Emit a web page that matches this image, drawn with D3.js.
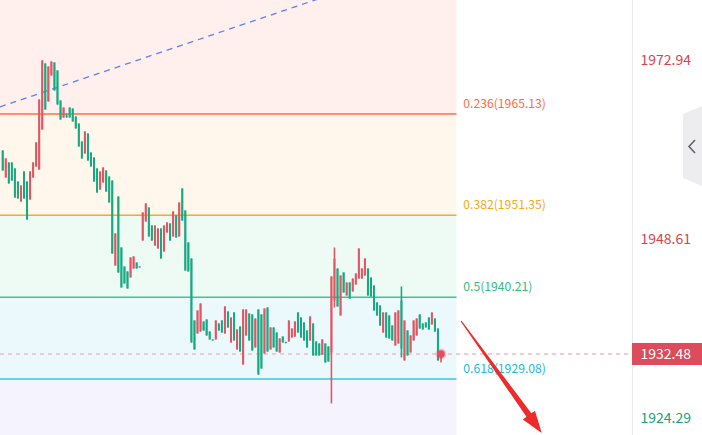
<!DOCTYPE html>
<html><head><meta charset="utf-8">
<script src="https://cdn.jsdelivr.net/npm/d3@7"></script>
<style>html,body{margin:0;padding:0;background:#fff;overflow:hidden}svg{display:block}</style>
</head><body>
<svg id="c" width="702" height="435"></svg>
<script>
// ---------- data ----------
const fibRatios = [0.236, 0.382, 0.5, 0.618];
const fibPrices = [1965.13, 1951.35, 1940.21, 1929.08];
const axisTicks = [1972.94, 1948.61, 1924.29];
const lastPrice = 1932.48;

const open = [
1960.17,1956.49,1958.53,1958.53,1957.72,1955.95,1953.23,1957.31,1955.95,1953.50,
1956.49,1957.99,1957.58,1963.02,1972.00,1966.83,1970.37,1972.14,1971.05,1966.97,
1964.65,1964.93,1966.01,1965.88,1964.79,1963.84,1961.39,1959.76,1962.48,1959.89,
1959.21,1957.72,1954.86,1955.81,1957.44,1956.63,1956.08,1944.52,1953.91,1946.97,
1944.39,1943.71,1942.89,1944.11,1944.93,1944.39,1947.92,1950.51,1952.41,1949.96,
1947.24,1946.83,1949.56,1946.43,1949.01,1950.24,1948.47,1951.32,1948.47,1955.00,
1952.00,1947.65,1945.47,1937.04,1935.27,1935.54,1936.90,1937.18,1935.54,1934.46,
1934.46,1936.63,1937.04,1935.27,1938.26,1934.05,1938.13,1933.10,1936.22,1931.06,
1935.00,1937.99,1937.86,1933.37,1938.54,1937.86,1932.55,1938.81,1933.10,1936.09,
1935.41,1932.69,1934.86,1934.10,1934.18,1934.73,1934.86,1938.13,1937.45,1936.77,
1935.68,1934.32,1936.63,1934.18,1933.91,1932.41,1933.91,1933.50,1932.69,1939.76,
1944.11,1937.72,1943.57,1940.44,1942.21,1940.99,1941.94,1942.75,1942.75,1943.16,
1944.11,1942.89,1941.80,1939.49,1939.08,1935.41,1938.13,1937.72,1936.36,1933.64,
1933.91,1939.76,1931.60,1935.68,1932.69,1934.32,1935.00,1937.86,1936.63,1936.77,
1937.45,1936.50,1937.31,1935.95,1931.87];
const close = [
1957.44,1959.08,1955.68,1956.08,1953.77,1953.64,1955.40,1953.64,1950.78,1957.31,
1958.53,1961.25,1967.10,1972.41,1965.74,1971.59,1972.27,1968.33,1966.42,1964.38,
1966.01,1964.79,1964.65,1964.11,1963.16,1960.71,1959.08,1962.75,1958.81,1957.99,
1955.95,1954.45,1957.31,1957.85,1954.59,1953.09,1946.15,1948.88,1943.57,1941.53,
1942.07,1941.39,1945.61,1945.75,1944.11,1944.25,1951.73,1952.96,1948.47,1947.92,
1949.96,1949.56,1945.47,1949.96,1950.37,1947.92,1951.87,1948.33,1953.09,1950.64,
1943.84,1943.71,1934.05,1933.10,1938.40,1939.35,1935.68,1935.00,1934.46,1934.32,
1937.04,1935.68,1935.41,1938.94,1936.09,1937.45,1934.32,1935.82,1932.82,1938.54,
1938.54,1934.32,1932.96,1937.31,1929.69,1930.51,1938.67,1932.82,1936.09,1933.37,
1932.82,1934.59,1934.05,1934.00,1937.04,1935.95,1936.90,1935.41,1934.73,1934.32,
1933.37,1937.59,1932.28,1932.28,1932.28,1934.46,1931.32,1931.46,1943.03,1945.47,
1938.94,1943.16,1940.85,1942.21,1940.03,1942.75,1943.43,1946.83,1944.11,1945.47,
1940.44,1940.31,1938.40,1937.72,1936.36,1938.13,1934.73,1934.59,1934.32,1938.13,
1938.40,1933.23,1937.04,1932.28,1935.00,1937.04,1937.31,1935.95,1935.82,1936.09,
1935.82,1938.13,1935.54,1931.60,1932.48];
const high = [
1960.17,1959.08,1958.53,1958.53,1957.72,1955.95,1955.40,1957.31,1955.95,1957.31,
1958.53,1961.25,1967.10,1972.41,1972.00,1971.59,1972.27,1972.14,1971.05,1966.97,
1966.01,1965.20,1966.01,1965.88,1964.79,1963.84,1961.39,1962.75,1962.48,1959.89,
1959.21,1957.72,1957.31,1957.85,1957.44,1956.63,1956.08,1948.88,1953.91,1946.97,
1944.39,1943.71,1945.61,1945.75,1944.93,1944.39,1951.73,1952.96,1952.41,1949.96,
1949.96,1949.56,1949.56,1949.96,1950.37,1950.24,1951.87,1951.32,1953.09,1955.00,
1952.00,1947.65,1945.47,1937.04,1938.40,1939.35,1936.90,1937.18,1935.54,1934.46,
1937.04,1936.63,1937.04,1938.94,1938.26,1937.45,1938.13,1935.82,1936.22,1938.54,
1938.54,1937.99,1937.86,1937.31,1938.54,1937.86,1938.67,1938.81,1936.09,1936.09,
1935.41,1934.59,1934.86,1934.15,1937.04,1935.95,1936.90,1938.13,1937.45,1936.77,
1935.68,1937.59,1936.63,1934.18,1933.91,1934.46,1933.91,1933.50,1943.03,1946.97,
1944.11,1943.16,1943.57,1942.21,1942.21,1942.75,1943.43,1946.83,1944.11,1945.47,
1944.11,1942.89,1941.80,1939.49,1939.08,1938.13,1938.13,1937.72,1936.36,1938.13,
1938.40,1941.67,1937.04,1935.68,1935.00,1937.04,1937.31,1937.86,1936.63,1936.77,
1937.45,1938.13,1937.31,1935.95,1932.48];
const low = [
1957.44,1956.49,1955.68,1956.08,1953.77,1953.64,1953.23,1953.64,1950.78,1953.50,
1956.49,1957.99,1957.58,1963.02,1965.74,1966.83,1970.37,1968.33,1966.42,1964.38,
1964.65,1964.60,1964.65,1964.11,1963.16,1960.71,1959.08,1959.76,1958.81,1957.99,
1955.95,1954.45,1954.86,1955.81,1954.59,1953.09,1946.15,1944.52,1943.57,1941.53,
1942.07,1941.39,1942.89,1944.11,1944.11,1944.25,1947.92,1950.51,1948.47,1947.92,
1947.24,1946.83,1945.47,1946.43,1949.01,1947.92,1948.47,1948.33,1948.47,1950.64,
1943.84,1943.71,1934.05,1933.10,1935.27,1935.54,1935.68,1935.00,1934.46,1934.32,
1934.46,1935.68,1935.41,1935.27,1936.09,1934.05,1934.32,1933.10,1932.82,1931.06,
1935.00,1934.32,1932.96,1933.37,1929.69,1930.51,1932.55,1932.82,1933.10,1933.37,
1932.82,1932.69,1934.05,1933.95,1934.18,1934.73,1934.86,1935.41,1934.73,1934.32,
1933.37,1934.32,1932.28,1932.28,1932.28,1932.41,1931.32,1931.46,1925.75,1938.81,
1938.94,1937.72,1940.85,1940.44,1940.03,1940.99,1941.94,1942.75,1942.75,1943.16,
1940.44,1940.31,1938.40,1937.72,1936.36,1935.41,1934.73,1934.59,1934.32,1933.64,
1933.91,1932.01,1931.60,1932.28,1932.69,1934.32,1935.00,1935.95,1935.82,1936.09,
1935.82,1936.50,1935.54,1931.60,1931.32];

// annotation anchors in (bar index, price)
const trendIdx = [-0.9, 101.3];
const trendPrice = [1966.1, 1980.45];
const arrowIdx = [150.6, 177.1];
const arrowPrice = [1936.97, 1921.75];

// ---------- styles ----------
const W = 702, H = 435, plotRight = 456.5, axisX = 632;
const bandColors = ["#fff0ee", "#fff7eb", "#eefaf4", "#ebf8fc", "#f5f3fd"];
const lineColors = ["#ff7043", "#f5ac1f", "#48c28a", "#3fc3e0"];
const labelColors = ["#ff6c3e", "#f5a91a", "#35bb7e", "#1ab8dc"];
const UP = "#e25563", DOWN = "#17a981";
const FONT = "'Noto Sans CJK SC','Noto Sans',sans-serif";

const svg = d3.select("#c");
const x = d3.scaleLinear().domain([0, open.length - 1]).range([2.7, 441]);
const y = d3.scaleLinear().domain([fibPrices[3], fibPrices[0]]).range([379, 114]);

// bands
const edges = [0, ...fibPrices.map(p => y(p)), H];
svg.append("g").selectAll("rect").data(bandColors).join("rect")
  .attr("x", 0).attr("width", plotRight)
  .attr("y", (d, i) => edges[i]).attr("height", (d, i) => edges[i + 1] - edges[i])
  .attr("fill", d => d);

// fib lines + labels
const fg = svg.append("g");
fg.selectAll("line").data(fibPrices).join("line")
  .attr("x1", 0).attr("x2", plotRight)
  .attr("y1", d => y(d)).attr("y2", d => y(d))
  .attr("stroke", (d, i) => lineColors[i]).attr("stroke-width", 1.5);
fg.selectAll("text").data(fibPrices).join("text")
  .attr("x", 463.3).attr("y", d => y(d) - 6)
  .attr("fill", (d, i) => labelColors[i])
  .attr("font-family", FONT).attr("font-size", 12.2)
  .text((d, i) => `${fibRatios[i]}(${d.toFixed(2)})`);

// trend line (extended across plot)
const tx0 = x(trendIdx[0]), ty0 = y(trendPrice[0]), tx1 = x(trendIdx[1]), ty1 = y(trendPrice[1]);
const slope = (ty1 - ty0) / (tx1 - tx0);
svg.append("line")
  .attr("x1", tx0).attr("y1", ty0)
  .attr("x2", tx1 + 20).attr("y2", ty1 + 20 * slope)
  .attr("stroke", "#5b82f0").attr("stroke-width", 1.3).attr("stroke-dasharray", "6,5");

// current price dashed line
svg.append("line")
  .attr("x1", 0).attr("x2", axisX).attr("y1", y(lastPrice)).attr("y2", y(lastPrice))
  .attr("stroke", "#f2b9c2").attr("stroke-width", 1.5).attr("stroke-dasharray", "4,4");

// candles
const idx = d3.range(open.length);
const cg = svg.append("g");
cg.selectAll("line").data(idx).join("line")
  .attr("x1", i => x(i)).attr("x2", i => x(i))
  .attr("y1", i => y(high[i])).attr("y2", i => y(low[i]))
  .attr("stroke", i => close[i] >= open[i] ? UP : DOWN).attr("stroke-width", 1.6);
cg.selectAll("rect").data(idx).join("rect")
  .attr("x", i => x(i) - 1).attr("width", 2)
  .attr("y", i => y(Math.max(open[i], close[i])))
  .attr("height", i => Math.max(1, Math.abs(y(open[i]) - y(close[i]))))
  .attr("fill", i => close[i] >= open[i] ? UP : DOWN);

// last price dot
const li = open.length - 1;
svg.append("circle").attr("cx", x(li)).attr("cy", y(lastPrice)).attr("r", 5.5)
  .attr("fill", "#e0505e").attr("opacity", 0.3);
svg.append("circle").attr("cx", x(li)).attr("cy", y(lastPrice)).attr("r", 3.8)
  .attr("fill", "#e0505e");

// red arrow
(function () {
  const sx = x(arrowIdx[0]), sy = y(arrowPrice[0]), ex = x(arrowIdx[1]), ey = y(arrowPrice[1]);
  const len = Math.hypot(ex - sx, ey - sy), ux = (ex - sx) / len, uy = (ey - sy) / len;
  const nx = -uy, ny = ux;
  const bx = sx + ux * (len - 22), by = sy + uy * (len - 22);
  const P = (px, py, k) => [px + nx * k, py + ny * k];
  const pts = [P(sx, sy, 0.6), P(bx, by, 3), P(bx, by, 7.5), [ex, ey], P(bx, by, -7.5), P(bx, by, -3), P(sx, sy, -0.6)];
  svg.append("polygon").attr("points", pts.map(p => p.join(",")).join(" ")).attr("fill", "#ee2a2a");
})();

// right axis
svg.append("line").attr("x1", axisX + 0.5).attr("x2", axisX + 0.5).attr("y1", 0).attr("y2", H)
  .attr("stroke", "#e9ebf3").attr("stroke-width", 1);
svg.append("g").selectAll("text").data(axisTicks).join("text")
  .attr("x", 640.5).attr("y", d => y(d) + 8.8)
  .attr("fill", d => d < lastPrice ? "#17a37b" : "#d9434f")
  .attr("font-family", FONT).attr("font-size", 14)
  .text(d => d.toFixed(2));

// current price box
svg.append("rect").attr("x", axisX).attr("y", y(lastPrice) - 11).attr("width", W - axisX).attr("height", 22)
  .attr("fill", "#dc4c5b");
svg.append("text").attr("x", 640.5).attr("y", y(lastPrice) + 5)
  .attr("fill", "#fff").attr("font-family", FONT).attr("font-size", 14)
  .text(lastPrice.toFixed(2));

// collapse tab
svg.append("polygon").attr("points", "683,114 702,106 702,186 683,178").attr("fill", "#ededf0");
svg.append("polyline").attr("points", "695,140 689,146.5 695,153")
  .attr("fill", "none").attr("stroke", "#5a5e6a").attr("stroke-width", 1.5);
</script>
</body></html>
